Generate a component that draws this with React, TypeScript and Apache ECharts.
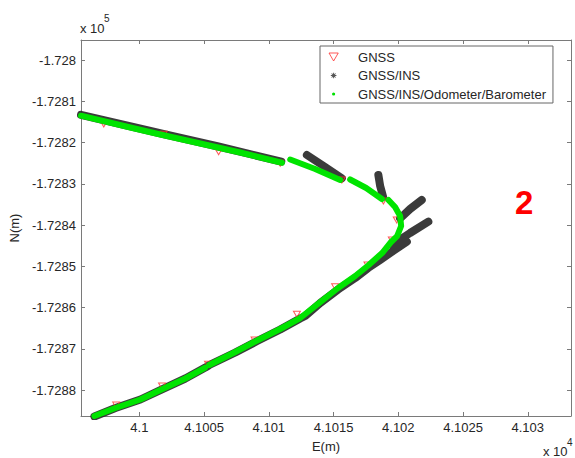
import React, { useEffect, useRef } from "react";
import * as echarts from "echarts";

// Axis extents (metres) and tick steps
const X_MIN = 40995.49;
const X_MAX = 41033.34;
const Y_MIN = -172886.3;
const Y_MAX = -172795.15;
const X_STEP = 5;
const Y_STEP = 10;

// GNSS fixes (red triangles)
const gnssE = [40997.25, 41001.88, 41006.12, 41010.88, 41015.64, 41018.85, 41019.88, 41019.5, 41017.62, 41015.12, 41012.17, 41008.9, 41005.3, 41001.75, 40998.21];
const gnssN = [-172815.52, -172818.01, -172822.23, -172825.04, -172829.09, -172834.18, -172838.79, -172843.64, -172849.7, -172854.96, -172861.65, -172867.88, -172873.77, -172879.03, -172883.64];

// GNSS/INS solution (black asterisks), null = gap
const insE = [
  40995.49, 41000.85, 41002.01, 41006.1, 41010.96, null,
  41012.94, 41014.35, 41015.64, null,
  41018.46, 41018.6, 41018.83, null,
  41021.81, 41020.91, 41020.14, null,
  41022.32, 41020.91, 41019.5, null,
  41020.66, 41019.6, 41018.6, 41017.67, 41016.67, 41015.35, 41013.97, 41012.81, 41012.42, 41010.88, 41009.1, 41007.41, 41005.4, 41005.09, 41003.55, 41001.62, 41000.08, 40998.15, 40996.53,
];
const insN = [
  -172813.28, -172817.21, -172818.06, -172820.97, -172824.61, null,
  -172823.03, -172825.94, -172828.68, null,
  -172827.88, -172830.55, -172833.21, null,
  -172833.94, -172836.12, -172838.38, null,
  -172839.2, -172841.94, -172844.85, null,
  -172844.05, -172846.3, -172848.48, -172850.42, -172852.85, -172855.64, -172858.91, -172862.06, -172862.67, -172865.33, -172868.12, -172870.91, -172873.94, -172874.55, -172877.21, -172880.0, -172882.3, -172884.36, -172886.42,
];

// GNSS/INS/Odometer/Barometer solution (green dots), null = gap
const fusedE = [
  40995.49, 40999.31, 41001.62, 41004.71, 41007.79, 41011.01, null,
  41011.65, 41013.58, 41015.51, null,
  41016.28, 41017.52, 41018.73, null,
  41019.24, 41019.75, 41020.14, 41020.22, 41019.91, 41019.44, 41018.75, 41017.67, 41016.67, 41015.35, 41013.97, 41012.42, 41010.88, 41009.1, 41007.41, 41005.4, null,
  41005.09, 41003.55, 41001.62, 41000.08, 40998.15, 40996.53,
];
const fusedN = [
  -172813.5, -172816.36, -172818.06, -172820.24, -172822.42, -172824.9, null,
  -172824.12, -172826.42, -172829.09, null,
  -172828.97, -172831.03, -172833.7, null,
  -172833.94, -172835.64, -172837.82, -172840.24, -172842.67, -172844.12, -172846.79, -172849.82, -172852.36, -172855.27, -172858.67, -172862.55, -172865.21, -172868.0, -172870.79, -172873.94, null,
  -172874.55, -172877.21, -172880.0, -172882.3, -172884.36, -172886.3,
];

const seriesNames = ["GNSS", "GNSS/INS", "GNSS/INS/Odometer/Barometer"];

const FONT = "'Liberation Sans', Arial, sans-serif";
const TEXT = "#262626";
const AXIS = "#7a7a7a";

const TRI = "path://M0,0L10,0L5,8.66Z";
const STAR =
  "path://M0,0h0.01v0.01h-0.01Z M10,10h0.01v0.01h-0.01Z M4.4,1.5H5.6V8.5H4.4Z M1.5,4.4H8.5V5.6H1.5Z M2.08,2.92L2.92,2.08L7.92,7.08L7.08,7.92Z M7.08,2.08L7.92,2.92L2.92,7.92L2.08,7.08Z";
const DOT =
  "path://M0,0h0.01v0.01h-0.01Z M10,10h0.01v0.01h-0.01Z M3,5a2,2 0 1,0 4,0a2,2 0 1,0 -4,0Z";

const pairs = (e: (number | null)[], n: (number | null)[]) =>
  e.map((v, i) => (v === null || n[i] === null ? ["-", "-"] : [v, n[i]]));

const fmtX = (v: number) => String(parseFloat((v / 1e4).toFixed(4)));
const fmtY = (v: number) => String(parseFloat((v / 1e5).toFixed(4)));

export default function App() {
  const ref = useRef<HTMLDivElement>(null);
  useEffect(() => {
    if (!ref.current) return;
    const chart = echarts.init(ref.current, undefined, { renderer: "svg" });
    const axisCommon = {
      type: "value",
      axisLine: { show: true, onZero: false, lineStyle: { color: AXIS, width: 1 } },
      axisTick: { show: true, inside: true, length: 4, lineStyle: { color: AXIS } },
      splitLine: { show: false },
    };
    const xBase = { ...axisCommon, min: X_MIN, max: X_MAX, minInterval: X_STEP, maxInterval: X_STEP, splitNumber: 7 };
    const yBase = { ...axisCommon, min: Y_MIN, max: Y_MAX, minInterval: Y_STEP, maxInterval: Y_STEP, splitNumber: 9 };
    chart.setOption({
      animation: false,
      backgroundColor: "#fff",
      grid: { left: 80.5, top: 40, right: 4, bottom: 42, containLabel: false },
      xAxis: [
        {
          ...xBase,
          position: "bottom",
          name: "E(m)",
          nameLocation: "middle",
          nameGap: 24,
          nameTextStyle: { fontFamily: FONT, fontSize: 13, color: TEXT },
          axisLabel: {
            show: true, margin: 5, fontFamily: FONT, fontSize: 13, color: TEXT,
            showMinLabel: false, showMaxLabel: false, formatter: fmtX,
          },
        },
        { ...xBase, position: "top", axisLabel: { show: false } },
      ],
      yAxis: [
        {
          ...yBase,
          position: "left",
          name: "N(m)",
          nameLocation: "middle",
          nameGap: 54,
          nameTextStyle: { fontFamily: FONT, fontSize: 13, color: TEXT },
          axisLabel: {
            show: true, margin: 5, fontFamily: FONT, fontSize: 13, color: TEXT,
            showMinLabel: false, showMaxLabel: false, formatter: fmtY,
          },
        },
        { ...yBase, position: "right", axisLabel: { show: false } },
      ],
      legend: {
        orient: "vertical",
        left: 320,
        top: 46,
        padding: [4, 7, 2, 8.5],
        itemWidth: 39,
        itemHeight: 8,
        itemGap: 4.5,
        borderColor: "#666",
        borderWidth: 1,
        borderRadius: 0,
        backgroundColor: "#fff",
        selectedMode: false,
        textStyle: { fontFamily: FONT, fontSize: 13, color: TEXT, lineHeight: 14 },
        data: [
          { name: seriesNames[0], icon: TRI, itemStyle: { color: "rgba(0,0,0,0)", borderColor: "#ff3030", borderWidth: 1 } },
          { name: seriesNames[1], icon: STAR, itemStyle: { color: "#555", borderWidth: 0 } },
          { name: seriesNames[2], icon: DOT, itemStyle: { color: "#00e000", borderWidth: 0 } },
        ],
      },
      series: [
        {
          name: seriesNames[1],
          type: "line",
          data: pairs(insE, insN),
          showSymbol: false,
          connectNulls: false,
          itemStyle: { color: "#555", borderWidth: 0 },
          lineStyle: { color: "#262626", width: 8, cap: "round", join: "round", opacity: 0.9 },
          silent: true,
          z: 2,
        },
        {
          name: seriesNames[0],
          type: "scatter",
          data: pairs(gnssE, gnssN),
          symbol: TRI,
          symbolSize: [7, 6],
          itemStyle: { color: "rgba(0,0,0,0)", borderColor: "#ff3030", borderWidth: 1 },
          silent: true,
          z: 3,
        },
        {
          name: seriesNames[2],
          type: "line",
          data: pairs(fusedE, fusedN),
          showSymbol: false,
          connectNulls: false,
          itemStyle: { color: "#00e000", borderWidth: 0 },
          lineStyle: { color: "#00e400", width: 6, cap: "round", join: "round" },
          silent: true,
          z: 4,
        },
      ],
      graphic: [
        { type: "text", left: 80, top: 22, style: { text: "x 10", fontFamily: FONT, fontSize: 13, fill: TEXT } },
        { type: "text", left: 104, top: 13, style: { text: "5", fontFamily: FONT, fontSize: 10, fill: TEXT } },
        { type: "text", left: 543, top: 445, style: { text: "x 10", fontFamily: FONT, fontSize: 13, fill: TEXT } },
        { type: "text", left: 567, top: 437, style: { text: "4", fontFamily: FONT, fontSize: 10, fill: TEXT } },
        { type: "text", left: 515, top: 186, style: { text: "2", fontFamily: FONT, fontSize: 33, fontWeight: "bold", fill: "#ff0000" } },
      ],
    });
    return () => chart.dispose();
  }, []);
  return (
    <div
      ref={ref}
      style={{ position: "fixed", left: 0, top: 0, width: 575, height: 458, background: "#fff" }}
    />
  );
}
